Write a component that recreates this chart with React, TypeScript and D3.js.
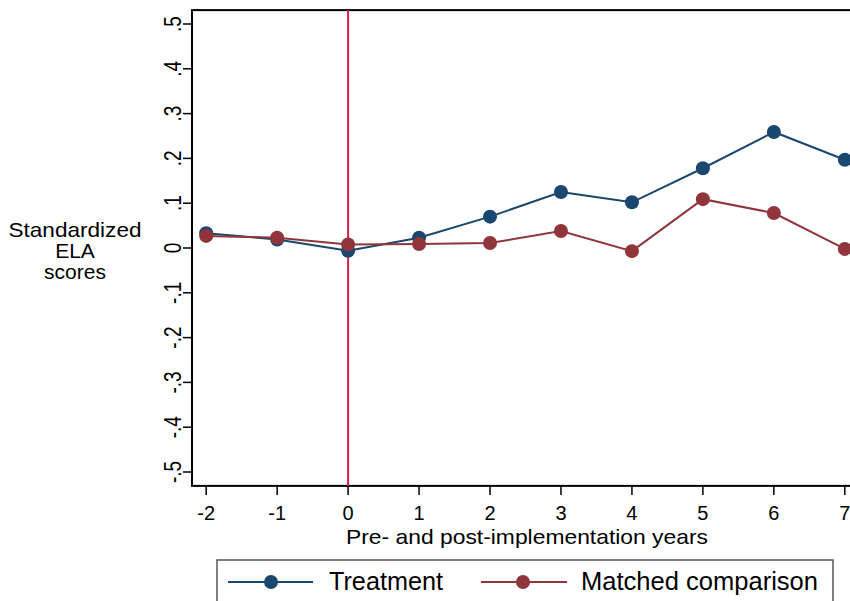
import React from "react";
import * as d3 from "d3";

const years = [-2, -1, 0, 1, 2, 3, 4, 5, 6, 7];
const treatment = [0.033, 0.019, -0.006, 0.023, 0.07, 0.125, 0.102, 0.178, 0.259, 0.197];
const matched = [0.027, 0.023, 0.008, 0.009, 0.011, 0.038, -0.007, 0.109, 0.078, -0.002];
const yTicks = [-0.5, -0.4, -0.3, -0.2, -0.1, 0, 0.1, 0.2, 0.3, 0.4, 0.5];
const xTicks = [-2, -1, 0, 1, 2, 3, 4, 5, 6, 7];
const seriesNames = ["Treatment", "Matched comparison"];
const yTitleLines = ["Standardized", "ELA", "scores"];
const xTitle = "Pre- and post-implementation years";
const colors = ["#1a476f", "#90353b"];

const fmtY = (v: number) => {
  if (v === 0) return "0";
  const s = v.toFixed(1);
  return s.replace("0.", ".");
};

export default function App() {
  const W = 850, H = 601;
  const x = d3.scaleLinear().domain([-2.2, 7.2]).range([192, 859]);
  const y = d3.scaleLinear().domain([-0.5, 0.5]).range([472, 24]);
  const top = y(0.531), bottom = y(-0.531);
  const line = d3.line<number>().x((_, i) => x(years[i])).y((d) => y(d));
  const series = [treatment, matched];
  const font = "'Liberation Sans', Arial, sans-serif";
  return (
    <svg width={W} height={H} style={{ position: "absolute", left: 0, top: 0, background: "#fff" }} fontFamily={font}>
      <rect x={0} y={0} width={W} height={H} fill="#fff" />
      {/* frame */}
      <rect x={x(-2.2)} y={top} width={x(7.2) - x(-2.2)} height={bottom - top} fill="none" stroke="#000" strokeWidth={2} />
      {/* y ticks */}
      {yTicks.map((t) => (
        <g key={t}>
          <line x1={x(-2.2) - 9} x2={x(-2.2)} y1={y(t)} y2={y(t)} stroke="#000" strokeWidth={1.5} />
          <text transform={`translate(${181},${y(t)}) rotate(-90) scale(1,1.25)`} textAnchor="middle" fontSize={19} fill="#000">
            {fmtY(t)}
          </text>
        </g>
      ))}
      {/* x ticks */}
      {xTicks.map((t) => (
        <g key={t}>
          <line x1={x(t)} x2={x(t)} y1={bottom} y2={bottom + 9} stroke="#000" strokeWidth={1.5} />
          <text x={x(t)} y={520} textAnchor="middle" fontSize={20} fill="#000">
            {t}
          </text>
        </g>
      ))}
      {/* vertical line at 0 */}
      <line x1={x(0)} x2={x(0)} y1={top} y2={bottom} stroke="#d81e4a" strokeWidth={2} />
      {/* series */}
      {series.map((s, si) => (
        <g key={si}>
          <path d={line(s) || ""} fill="none" stroke={colors[si]} strokeWidth={2} />
          {s.map((v, i) => (
            <circle key={i} cx={x(years[i])} cy={y(v)} r={7} fill={colors[si]} />
          ))}
        </g>
      ))}
      {/* y title */}
      {yTitleLines.map((l, i) => (
        <text key={l} x={75} y={237 + i * 21} textAnchor="middle" fontSize={21} fill="#000"
          textLength={i === 0 ? 133 : undefined} lengthAdjust="spacingAndGlyphs">{l}</text>
      ))}
      {/* x title */}
      <text x={346} y={544} fontSize={21} fill="#000" textLength={362} lengthAdjust="spacingAndGlyphs">{xTitle}</text>
      {/* legend */}
      <rect x={217} y={560} width={616} height={60} fill="#fff" stroke="#555" strokeWidth={1.5} />
      <line x1={228} x2={313} y1={582} y2={582} stroke={colors[0]} strokeWidth={2} />
      <circle cx={271} cy={582} r={7} fill={colors[0]} />
      <text x={329} y={590} fontSize={25} fill="#000" textLength={114} lengthAdjust="spacingAndGlyphs">{seriesNames[0]}</text>
      <line x1={481} x2={567} y1={582} y2={582} stroke={colors[1]} strokeWidth={2} />
      <circle cx={523} cy={582} r={7} fill={colors[1]} />
      <text x={581} y={590} fontSize={25} fill="#000" textLength={237} lengthAdjust="spacingAndGlyphs">{seriesNames[1]}</text>
    </svg>
  );
}
